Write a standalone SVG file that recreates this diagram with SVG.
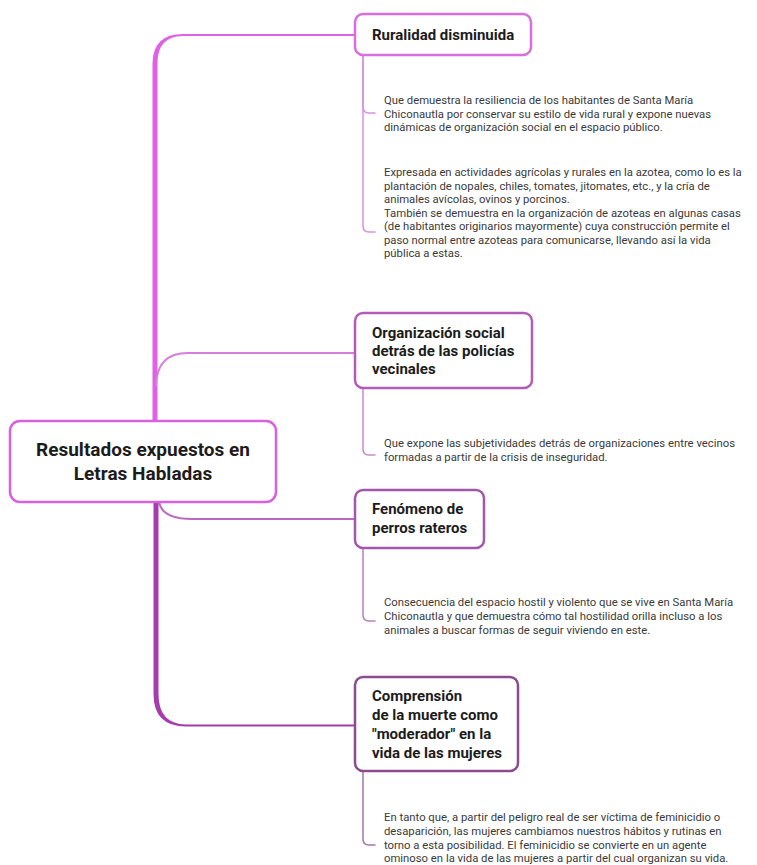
<svg xmlns="http://www.w3.org/2000/svg" width="757" height="865" viewBox="0 0 757 865">
<style>
.box{fill:#ffffff;stroke-width:2.5}
.title{font-family:Roboto,"Liberation Sans",sans-serif;font-weight:bold;font-size:15px;fill:#1c1c1c}
.root{font-family:Roboto,"Liberation Sans",sans-serif;font-weight:bold;font-size:19px;fill:#1c1c1c}
.body{font-family:Roboto,"Liberation Sans",sans-serif;font-size:11.3px;fill:#3a3a3a}
.br{fill:none;stroke-width:1.5;stroke-linecap:round}
</style>
<rect width="757" height="865" fill="#ffffff"/>
<g id="connectors">
  <path d="M152.5,421 L152.5,63 Q153,34 183,34 L355,34 L355,36 L183,36 Q157,36.5 157.5,64 L157.5,421 Z" fill="#e060e6"/>
  <path d="M156,386 Q156.5,353 188,353 L355,353" fill="none" stroke="#d57fdb" stroke-width="2"/>
  <path d="M159,502 Q162,519 192,519 L355,519" fill="none" stroke="#b96ac0" stroke-width="2"/>
  <path d="M153.5,502 L153.5,694 Q153.5,726.5 186,726.5 L355,726.5 L355,724.5 L186,724.5 Q158.5,724 158.5,694 L158.5,502 Z" fill="#a53daf"/>
  <path class="br" stroke="#dc8fe2" d="M363,55 V107 Q363,113 369,113 H375"/>
  <path class="br" stroke="#dc8fe2" d="M363,55 V226 Q363,232 369,232 H375"/>
  <path class="br" stroke="#c889ce" d="M363,388 V449 Q363,455 369,455 H375"/>
  <path class="br" stroke="#b97fc0" d="M363,548 V615 Q363,621 369,621 H375"/>
  <path class="br" stroke="#a574aa" d="M363,771 V839 Q363,845 369,845 H375"/>
</g>
<g id="root">
  <rect class="box" x="10" y="421" width="266" height="81" rx="10" stroke="#d862dd" stroke-width="3"/>
  <text class="root" x="143" y="456" text-anchor="middle">Resultados expuestos en</text>
  <text class="root" x="143" y="480" text-anchor="middle">Letras Habladas</text>
</g>
<g id="n1">
  <rect class="box" x="355" y="14" width="176" height="41" rx="8" stroke="#d86ee0"/>
  <text class="title" x="372" y="40">Ruralidad disminuida</text>
</g>
<g id="n1-text">
  <text class="body" x="384" y="104">Que demuestra la resiliencia de los habitantes de Santa María</text>
  <text class="body" x="384" y="117.5">Chiconautla por conservar su estilo de vida rural y expone nuevas</text>
  <text class="body" x="384" y="131">dinámicas de organización social en el espacio público.</text>
  <text class="body" x="384" y="176">Expresada en actividades agrícolas y rurales en la azotea, como lo es la</text>
  <text class="body" x="384" y="189.5">plantación de nopales, chiles, tomates, jitomates, etc., y la cría de</text>
  <text class="body" x="384" y="203">animales avícolas, ovinos y porcinos.</text>
  <text class="body" x="384" y="216.5">También se demuestra en la organización de azoteas en algunas casas</text>
  <text class="body" x="384" y="230">(de habitantes originarios mayormente) cuya construcción permite el</text>
  <text class="body" x="384" y="243.5">paso normal entre azoteas para comunicarse, llevando así la vida</text>
  <text class="body" x="384" y="257">pública a estas.</text>
</g>
<g id="n2">
  <rect class="box" x="355" y="313" width="177" height="75" rx="8" stroke="#b25cba"/>
  <text class="title" x="372" y="338">Organización social</text>
  <text class="title" x="372" y="356">detrás de las policías</text>
  <text class="title" x="372" y="374">vecinales</text>
</g>
<g id="n2-text">
  <text class="body" x="384" y="447">Que expone las subjetividades detrás de organizaciones entre vecinos</text>
  <text class="body" x="384" y="460.5">formadas a partir de la crisis de inseguridad.</text>
</g>
<g id="n3">
  <rect class="box" x="355" y="490" width="129" height="58" rx="8" stroke="#a456ae"/>
  <text class="title" x="372" y="514">Fenómeno de</text>
  <text class="title" x="372" y="533">perros rateros</text>
</g>
<g id="n3-text">
  <text class="body" x="384" y="606">Consecuencia del espacio hostil y violento que se vive en Santa María</text>
  <text class="body" x="384" y="620">Chiconautla y que demuestra cómo tal hostilidad orilla incluso a los</text>
  <text class="body" x="384" y="634">animales a buscar formas de seguir viviendo en este.</text>
</g>
<g id="n4">
  <rect class="box" x="355" y="677" width="163" height="94" rx="8" stroke="#8c4b8f"/>
  <text class="title" x="372" y="701">Comprensión</text>
  <text class="title" x="372" y="720">de la muerte como</text>
  <text class="title" x="372" y="739">"moderador" en la</text>
  <text class="title" x="372" y="757.5">vida de las mujeres</text>
</g>
<g id="n4-text">
  <text class="body" x="384" y="821">En tanto que, a partir del peligro real de ser víctima de feminicidio o</text>
  <text class="body" x="384" y="835">desaparición, las mujeres cambiamos nuestros hábitos y rutinas en</text>
  <text class="body" x="384" y="849">torno a esta posibilidad. El feminicidio se convierte en un agente</text>
  <text class="body" x="384" y="862">ominoso en la vida de las mujeres a partir del cual organizan su vida.</text>
</g>
</svg>
